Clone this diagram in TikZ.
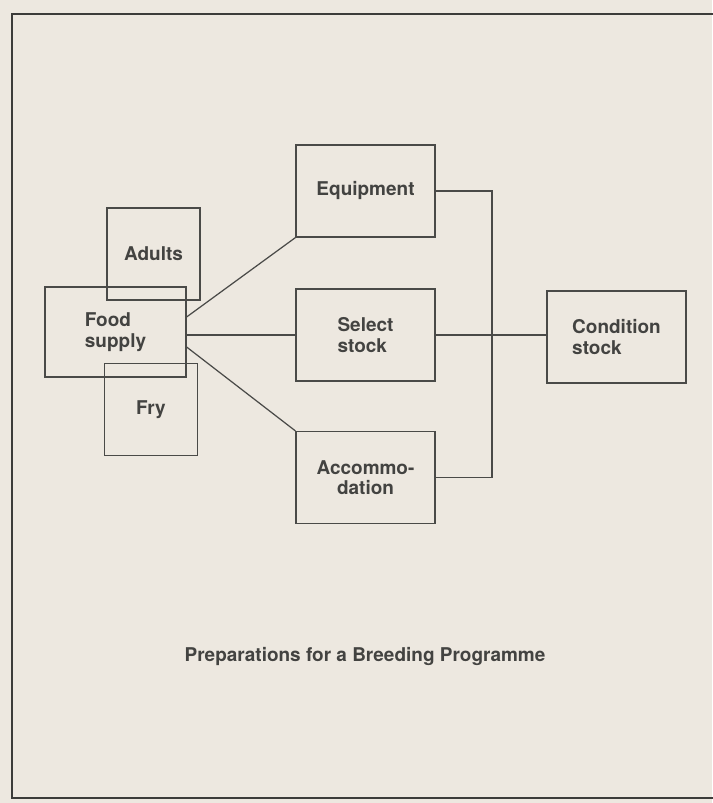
\documentclass[tikz,border=0pt]{standalone}
\usepackage{fontspec}
\setsansfont{TeX Gyre Heros}
\usepackage{xcolor}
\usetikzlibrary{positioning, calc}

\definecolor{paperbg}{HTML}{EDE8E0}
\definecolor{ink}{HTML}{4A4A48}
\definecolor{frameink}{HTML}{3C3C3A}

\begin{document}
\begin{tikzpicture}[
    x=0.02cm, y=-0.02cm,
    stage/.style={rectangle, draw=ink, line width=0.7pt, minimum width=2.78cm, minimum height=1.84cm, align=left, text=ink!90!black, font=\sffamily\bfseries\fontsize{10.8}{11.6}\selectfont},
    small/.style={stage, minimum width=1.86cm},
    link/.style={draw=ink, line width=0.7pt},
]

% ---- Page ----
\useasboundingbox (0,0) rectangle (712,803);
\fill[paperbg] (0,0) rectangle (712,803);
\draw[frameink, line width=1.5pt] (714,14) -- (12,14) -- (12,798) -- (714,798);

% ---- Food side ----
\node[small] (adults) at (153.5,254) {Adults};
\node[stage, minimum width=2.82cm, minimum height=1.8cm] (food) at (115.5,332) {Food\\supply};
\node[small] (fry) at (151,409.5) {Fry};

% ---- Preparations ----
\node[stage] (equip) at (365.5,191) {Equipment};
\node[stage] (select) at (365.5,335) {Select\\stock};
\node[stage, align=center] (accom) at (365.5,477.5) {Accommo-\\dation};
\node[stage] (cond) at (616.5,337) {Condition\\stock};

% ---- Bus ----
\coordinate (bus) at (492,335);

% ---- Links ----
\draw[link] ([yshift=0.3cm]food.east) -- (equip.south west);
\draw[link] (food.east |- select.west) -- (select.west);
\draw[link] ([yshift=-0.3cm]food.east) -- (accom.north west);
\draw[link] (equip.east) -- (equip.east -| bus) -- (accom.east -| bus) -- (accom.east);
\draw[link] (select.east) -- (select.east -| cond.west);

% ---- Caption ----
\node[font=\sffamily\bfseries\fontsize{10.8}{12}\selectfont, text=ink!90!black] (caption) at (365,656) {Preparations for a Breeding Programme};

\end{tikzpicture}
\end{document}
